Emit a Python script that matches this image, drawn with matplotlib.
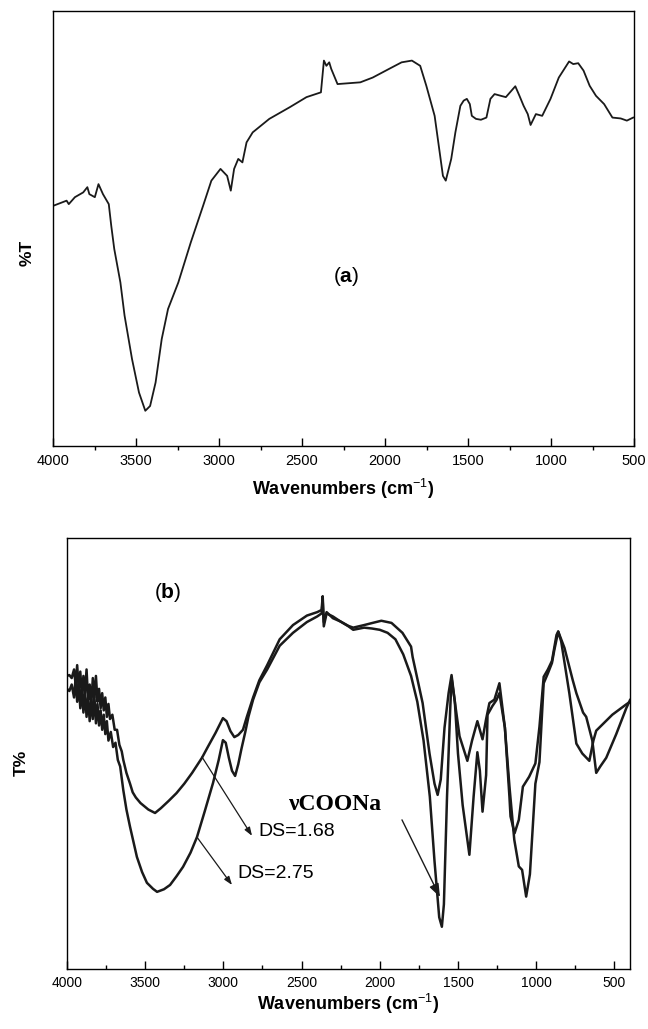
import matplotlib
matplotlib.use('Agg')
import matplotlib.pyplot as plt
from matplotlib.ticker import MultipleLocator, FixedLocator

plt.rcParams['font.family'] = ['Liberation Sans', 'DejaVu Sans']
plt.rcParams['mathtext.fontset'] = 'custom'
plt.rcParams['mathtext.rm'] = 'Liberation Sans'
plt.rcParams['mathtext.bf'] = 'Liberation Sans:bold'
plt.rcParams['mathtext.it'] = 'Liberation Sans:italic'

# ---------------- data: panel (a) ----------------
wn_a = [4000, 3918, 3905, 3868, 3818, 3793, 3781, 3748, 3726, 3699, 3664, 3649,
        3631, 3594, 3569, 3524, 3482, 3444, 3415, 3382, 3345, 3307, 3245, 3170,
        3096, 3046, 2991, 2951, 2929, 2909, 2884, 2859, 2834, 2797, 2697, 2573,
        2473, 2386, 2368, 2353, 2336, 2324, 2286, 2149, 2074, 1975, 1900, 1838,
        1788, 1751, 1701, 1676, 1651, 1634, 1601, 1576, 1546, 1526, 1507, 1489,
        1477, 1452, 1422, 1389, 1365, 1340, 1302, 1272, 1215, 1190, 1165, 1140,
        1123, 1091, 1053, 1003, 953, 891, 866, 836, 804, 767, 729, 680, 630,
        580, 543, 505]
T_a = [55.2, 56.4, 55.6, 57.2, 58.3, 59.5, 57.9, 57.2, 60.2, 57.9, 55.6, 50.6,
       45.3, 37.6, 30.0, 20.0, 12.3, 8.1, 9.2, 14.6, 24.6, 31.5, 37.6, 46.8,
       55.2, 61.0, 63.7, 62.1, 58.7, 63.7, 66.0, 65.2, 69.8, 72.1, 75.2, 77.9,
       80.2, 81.3, 88.6, 87.4, 88.2, 86.7, 83.2, 83.6, 84.7, 86.7, 88.2, 88.6,
       87.4, 82.8, 75.9, 69.0, 62.1, 61.0, 66.0, 72.1, 78.2, 79.4, 79.8, 78.6,
       75.9, 75.2, 75.0, 75.5, 79.8, 80.9, 80.5, 80.2, 82.7, 80.5, 78.2, 76.3,
       73.8, 76.3, 75.9, 79.8, 84.7, 88.4, 87.8, 88.0, 86.3, 82.8, 80.5, 78.6,
       75.5, 75.3, 74.8, 75.5]

# ---------------- data: panel (b) ----------------
wn_ds168 = [4000, 3985, 3970, 3955, 3945, 3935, 3925, 3915, 3905, 3895, 3885, 3875,
            3865, 3855, 3845, 3835, 3825, 3815, 3805, 3795, 3785, 3775, 3765, 3755,
            3745, 3735, 3725, 3710, 3695, 3680, 3665, 3650, 3640, 3620, 3597, 3580,
            3560, 3530, 3480, 3437, 3400, 3350, 3300, 3250, 3200, 3137, 3100, 3050,
            3003, 2980, 2955, 2930, 2905, 2875, 2850, 2810, 2770, 2720, 2640, 2555,
            2466, 2400, 2372, 2365, 2358, 2340, 2300, 2250, 2200, 2170, 2100, 2046,
            1990, 1925, 1855, 1800, 1790, 1726, 1682, 1650, 1630, 1610, 1586, 1560,
            1541, 1520, 1490, 1440, 1410, 1376, 1343, 1320, 1299, 1267, 1235, 1200,
            1171, 1164, 1138, 1111, 1085, 1045, 1005, 979, 952, 925, 899, 870, 859,
            819, 766, 743, 700, 680, 641, 616, 590, 552, 488, 424, 400]
T_ds168 = [68.0, 68.2, 67.5, 69.5, 66.0, 70.5, 65.0, 69.0, 63.5, 68.0, 64.0, 69.5,
           62.5, 66.0, 61.0, 67.5, 63.0, 68.0, 62.0, 65.0, 60.5, 64.0, 60.0, 63.0,
           58.5, 61.5, 58.0, 59.0, 55.5, 55.5, 52.0, 50.5, 48.5, 45.5, 43.0, 41.0,
           39.8, 38.5, 37.0, 36.2, 37.3, 39.0, 40.8, 43.0, 45.5, 49.0, 51.5, 54.8,
           58.2, 57.5, 55.2, 53.8, 54.3, 55.5, 58.5, 63.0, 67.0, 70.5, 76.5, 79.8,
           82.0, 82.8, 83.3, 86.5, 80.5, 82.8, 81.4, 80.6, 79.6, 79.2, 79.8, 80.3,
           80.8, 80.3, 78.0, 74.8, 72.4, 61.7, 50.0, 43.0, 40.4, 44.0, 56.0, 64.0,
           68.2, 62.0, 54.0, 48.3, 53.0, 57.5, 53.3, 58.0, 61.7, 62.5, 66.3, 56.0,
           40.0, 35.4, 31.5, 34.6, 42.3, 44.6, 47.7, 56.2, 67.8, 69.5, 71.5, 77.5,
           78.3, 74.5, 67.0, 64.0, 59.5, 58.5, 53.0, 45.5, 47.0, 49.0, 54.5, 60.5,
           62.4]

wn_ds275 = [4000, 3985, 3970, 3955, 3945, 3935, 3925, 3915, 3905, 3895, 3885, 3875,
            3865, 3855, 3845, 3835, 3825, 3815, 3805, 3795, 3785, 3775, 3765, 3755,
            3745, 3735, 3720, 3705, 3690, 3675, 3660, 3640, 3620, 3597, 3575, 3553,
            3520, 3489, 3450, 3424, 3380, 3341, 3300, 3258, 3210, 3169, 3120, 3066,
            3030, 3003, 2985, 2965, 2945, 2925, 2905, 2885, 2860, 2840, 2810, 2770,
            2720, 2640, 2555, 2466, 2400, 2372, 2365, 2358, 2340, 2300, 2250, 2200,
            2170, 2100, 2050, 2000, 1950, 1900, 1850, 1800, 1760, 1720, 1680, 1650,
            1620, 1603, 1590, 1570, 1550, 1541, 1520, 1500, 1470, 1427, 1400, 1376,
            1360, 1343, 1320, 1311, 1280, 1254, 1235, 1200, 1170, 1140, 1111, 1090,
            1064, 1040, 1005, 979, 952, 925, 899, 884, 859, 840, 788, 743, 705, 660,
            634, 616, 513, 424, 400]
T_ds275 = [65.0, 64.5, 66.0, 63.0, 67.5, 62.0, 66.5, 60.5, 65.0, 59.5, 64.5, 58.5,
           63.0, 57.5, 62.5, 58.0, 63.5, 57.0, 61.5, 56.5, 60.0, 55.5, 59.0, 54.5,
           57.5, 53.0, 55.0, 51.5, 52.5, 48.5, 47.0, 41.5, 37.0, 33.0, 29.5, 26.0,
           22.5, 20.0, 18.6, 17.9, 18.5, 19.5, 21.5, 23.7, 27.0, 30.6, 36.5, 43.2,
           48.5, 53.1, 52.5, 49.0, 46.0, 44.8, 47.5, 51.0, 55.0, 58.5, 62.5, 66.5,
           69.5, 75.0, 78.0, 80.5, 81.8, 82.5, 85.5, 79.5, 82.5, 81.8, 80.6, 79.5,
           78.7, 79.2, 79.0, 78.7, 78.0, 76.5, 73.0, 68.0, 62.0, 53.0, 40.0, 25.0,
           12.0, 9.8, 15.0, 40.0, 60.0, 67.5, 62.0, 50.0, 38.0, 26.5, 40.0, 50.3,
           46.0, 36.5, 45.0, 59.0, 61.0, 62.4, 64.0, 56.0, 42.0, 30.0, 23.8, 23.0,
           16.8, 22.0, 43.0, 48.0, 66.3, 68.6, 71.0, 74.0, 78.3, 76.0, 64.0, 52.3,
           50.0, 48.3, 53.0, 55.3, 59.0, 61.4, 62.0]

x_ticks = [4000, 3500, 3000, 2500, 2000, 1500, 1000, 500]
x_ticklabels = ['4000', '3500', '3000', '2500', '2000', '1500', '1000', '500']

# ---------------- layout ----------------
W, H = 648, 1029
fig = plt.figure(figsize=(W / 100, H / 100), dpi=100)


def rect(l, r, t, b):
    return [l / W, 1 - b / H, (r - l) / W, (b - t) / H]


axA = fig.add_axes(rect(53, 634, 11, 446))
axB = fig.add_axes(rect(67, 630, 538, 969))

# ---------------- panel (a) ----------------
axA.plot(wn_a, T_a, color='#1a1a1a', lw=1.3)
axA.set_xlim(4000, 500)
axA.set_ylim(0, 100)
axA.set_xticks(x_ticks)
axA.set_xticklabels(x_ticklabels, fontsize=10.5)
axA.xaxis.set_minor_locator(MultipleLocator(250))
axA.tick_params(axis='x', which='major', direction='in', length=6, width=1, pad=6)
axA.tick_params(axis='x', which='minor', direction='out', length=3, width=1)
axA.set_yticks([])
for s in axA.spines.values():
    s.set_linewidth(1.0)
axA.set_xlabel(r'Wavenumbers (cm$^{-1}$)', fontsize=13, fontweight='bold')
axA.xaxis.label.set_va('center')
axA.xaxis.set_label_coords(0.5, (446 - 489) / 435)
axA.set_ylabel('%T', fontsize=12.5, fontweight='bold')
axA.yaxis.label.set_va('center')
axA.yaxis.set_label_coords((27 - 53) / 581, (446 - 253) / 435)
axA.text((346 - 53) / 581, (446 - 277) / 435, r'($\mathbf{a}$)', fontsize=15,
         ha='center', va='center', transform=axA.transAxes)

# ---------------- panel (b) ----------------
axB.plot(wn_ds168, T_ds168, color='#1a1a1a', lw=1.8)
axB.plot(wn_ds275, T_ds275, color='#1a1a1a', lw=1.8)
axB.set_xlim(4000, 400)
axB.set_ylim(0, 100)
axB.set_xticks(x_ticks)
axB.set_xticklabels(x_ticklabels, fontsize=10)
axB.xaxis.set_minor_locator(MultipleLocator(250))
axB.tick_params(axis='x', which='major', direction='in', length=6, width=1, pad=5)
axB.tick_params(axis='x', which='minor', direction='in', length=3, width=1)
axB.set_yticks([])
for s in axB.spines.values():
    s.set_linewidth(1.0)
axB.set_xlabel(r'Wavenumbers (cm$^{-1}$)', fontsize=13, fontweight='bold')
axB.xaxis.label.set_va('center')
axB.xaxis.set_label_coords(0.5, (969 - 1004) / 431)
axB.set_ylabel('T%', fontsize=12.5, fontweight='bold')
axB.yaxis.label.set_va('center')
axB.yaxis.set_label_coords((21 - 67) / 563, (969 - 763) / 431)
axB.text((168 - 67) / 563, (969 - 592) / 431, r'($\mathbf{b}$)', fontsize=15,
         ha='center', va='center', transform=axB.transAxes)

axB.text((336 - 67) / 563, (969 - 805) / 431, 'νCOONa', fontsize=17,
         family=['Liberation Serif', 'DejaVu Serif'], fontweight='bold',
         ha='center', va='center', transform=axB.transAxes)
axB.text((258 - 67) / 563, (969 - 831) / 431, 'DS=1.68', fontsize=14,
         ha='left', va='center', transform=axB.transAxes)
axB.text((237 - 67) / 563, (969 - 873) / 431, 'DS=2.75', fontsize=14,
         ha='left', va='center', transform=axB.transAxes)

thin = dict(arrowstyle='-|>,head_length=0.5,head_width=0.18', color='#1a1a1a',
            lw=0.9, shrinkA=0, shrinkB=0)
axB.annotate('', xy=(2817, 30.9), xytext=(3137, 49.2), arrowprops=thin)
axB.annotate('', xy=(2945, 19.5), xytext=(3169, 30.6), arrowprops=thin)
thick = dict(arrowstyle='-|>,head_length=0.8,head_width=0.3', color='#1a1a1a',
             lw=1.0, shrinkA=0, shrinkB=0)
axB.annotate('', xy=(1615, 16.7), xytext=(1858, 34.6), arrowprops=thick)

fig.savefig('out.png', dpi=100)
